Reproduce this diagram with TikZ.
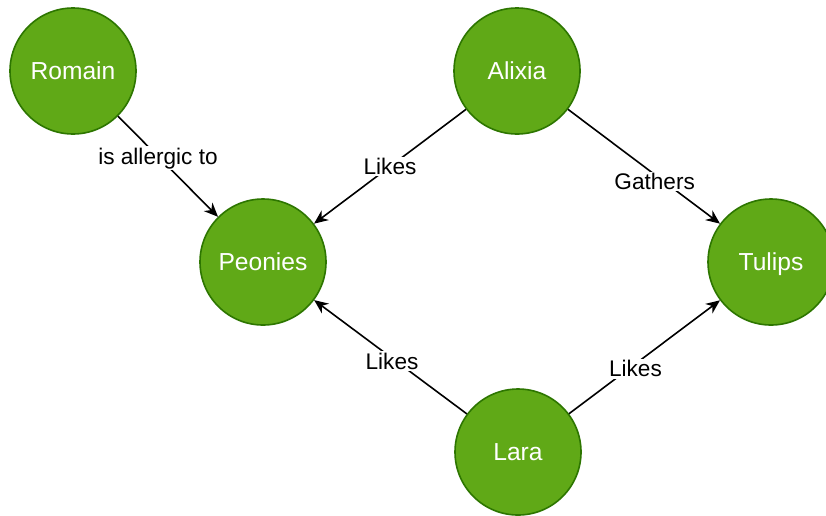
\documentclass[tikz,border=0pt]{standalone}
\usepackage{fontspec}
\setmainfont{Liberation Sans}
\usetikzlibrary{arrows.meta}
\definecolor{leaf}{HTML}{60A917}
\definecolor{leafline}{HTML}{2D7600}
\tikzset{
  flower/.style={circle, draw=leafline, fill=leaf, line width=1.6pt,
    minimum size=126pt, inner sep=0pt, text=white,
    text height=17.6pt, text depth=0pt,
    font=\fontsize{24.6}{29}\selectfont},
  rel/.style={draw=black, line width=1.6pt,
    -{Stealth[length=14pt, width=12pt, inset=4.5pt]}},
  lbl/.style={fill=white, inner sep=1.5pt, text=black,
    font=\fontsize{22.6}{27}\selectfont},
}
\begin{document}
\begin{tikzpicture}[x=1pt, y=-1pt]
  \useasboundingbox (0,0) rectangle (826,515);
  \fill[white] (0,0) rectangle (826,515);

  % people and flowers
  \node[flower] (romain)  at (73,71)   {Romain};
  \node[flower] (alixia)  at (517,71)  {Alixia};
  \node[flower] (peonies) at (263,262) {Peonies};
  \node[flower] (tulips)  at (771,262) {Tulips};
  \node[flower] (lara)    at (518,452) {Lara};

  % relations
  \draw[rel] (romain) -- node[lbl, pos=0.4, yshift=-2pt] {is allergic to} (peonies);
  \draw[rel] (alixia) -- node[lbl, pos=0.5] {Likes} (peonies);
  \draw[rel] (alixia) -- node[lbl, pos=0.57, yshift=-7pt] {Gathers} (tulips);
  \draw[rel] (lara) -- node[lbl, pos=0.49, yshift=-3pt] {Likes} (peonies);
  \draw[rel] (lara) -- node[lbl, pos=0.44, yshift=-5pt] {Likes} (tulips);
\end{tikzpicture}
\end{document}
